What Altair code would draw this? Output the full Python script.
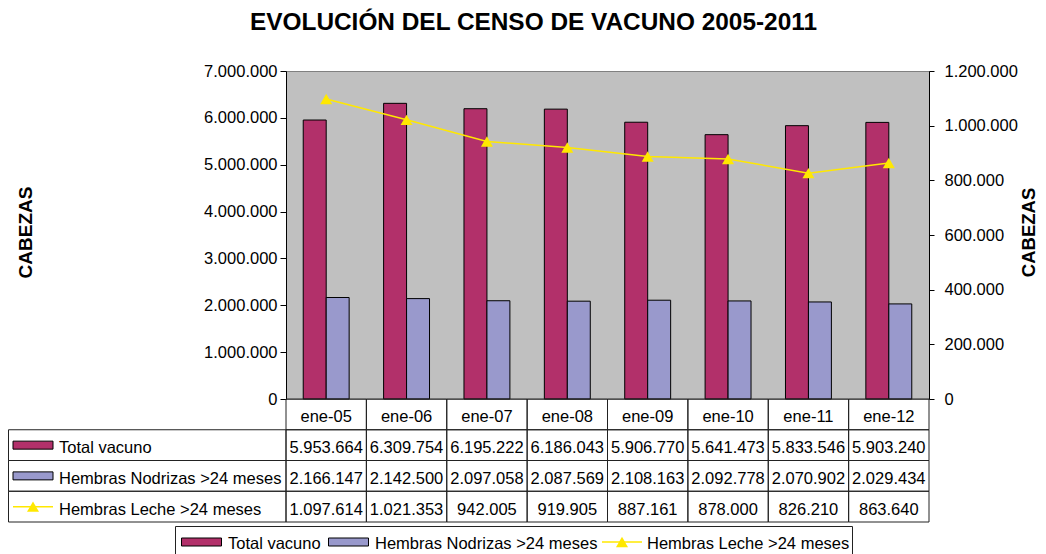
import altair as alt
import pandas as pd

# ---------------- data ----------------
categories = ["ene-05", "ene-06", "ene-07", "ene-08", "ene-09", "ene-10", "ene-11", "ene-12"]
series_names = ["Total vacuno", "Hembras Nodrizas >24 meses", "Hembras Leche >24 meses"]
total_vacuno = [5953664, 6309754, 6195222, 6186043, 5906770, 5641473, 5833546, 5903240]
hembras_nodrizas = [2166147, 2142500, 2097058, 2087569, 2108163, 2092778, 2070902, 2029434]
hembras_leche = [1097614, 1021353, 942005, 919905, 887161, 878000, 826210, 863640]
left_ticks = [0, 1000000, 2000000, 3000000, 4000000, 5000000, 6000000, 7000000]
right_ticks = [0, 200000, 400000, 600000, 800000, 1000000, 1200000]
title_text = "EVOLUCIÓN DEL CENSO DE VACUNO 2005-2011"
axis_title = "CABEZAS"

# ---------------- style ----------------
FONT = "Liberation Sans"
FS = 16.5
C_TOTAL = "#B2306A"
C_NODR = "#9999CC"
C_LECHE = "#FFE800"
W, H = 643, 328
RECT_PATH = "M-2,-0.4H2V0.4H-2Z"
LINE_PATH = "M-2,0H2"


def fmt_es(v):
    return f"{v:,}".replace(",", ".")


label_expr = "replace(replace(format(datum.value, ','), ',', '.'), ',', '.')"

bar_df = pd.DataFrame({
    "cat": categories * 2,
    "serie": [series_names[0]] * len(categories) + [series_names[1]] * len(categories),
    "valor": total_vacuno + hembras_nodrizas,
})
line_df = pd.DataFrame({"cat": categories, "valor": hembras_leche})

rows = ["hdr"] + series_names
tab_records = [{"cat": c, "fila": "hdr", "txt": c} for c in categories]
for name, vals in zip(series_names, [total_vacuno, hembras_nodrizas, hembras_leche]):
    for c, v in zip(categories, vals):
        tab_records.append({"cat": c, "fila": name, "txt": fmt_es(v)})
tab_df = pd.DataFrame(tab_records)
rowname_df = pd.DataFrame({"fila": series_names})

x_enc = alt.X("cat:N", scale=alt.Scale(domain=categories, paddingInner=0, paddingOuter=0), axis=None)
row_scale = alt.Scale(domain=rows, range=[H, H + 123], paddingInner=0, paddingOuter=0)
y_row = alt.Y("fila:N", scale=row_scale, axis=None)

# ---------------- title ----------------
title_mark = alt.Chart(pd.DataFrame({"t": [title_text]})).mark_text(
    font=FONT, fontSize=24.4, fontWeight="bold", color="black", align="center", baseline="alphabetic"
).encode(x=alt.value(247.5), y=alt.value(-41), text="t:N")

# ---------------- chart layers ----------------
bars = alt.Chart(bar_df).mark_bar(stroke="black", strokeWidth=1, opacity=1).encode(
    x=x_enc,
    xOffset=alt.XOffset("serie:N", scale=alt.Scale(domain=series_names[:2], paddingInner=0, paddingOuter=0.75)),
    y=alt.Y("valor:Q", scale=alt.Scale(domain=[0, 7000000], nice=False, zero=True),
            axis=alt.Axis(orient="left", values=left_ticks, labelExpr=label_expr, grid=False,
                          title=axis_title, titleFontSize=19, titleFontWeight="bold", titleAngle=270,
                          titleX=-261, titleY=161, titleAlign="center", titleBaseline="middle",
                          tickSize=6, labelPadding=3)),
    color=alt.Color("serie:N", scale=alt.Scale(domain=series_names[:2], range=[C_TOTAL, C_NODR]), legend=None),
)

line = alt.Chart(line_df).mark_line(color=C_LECHE, strokeWidth=1.5).encode(
    x=x_enc,
    y=alt.Y("valor:Q", scale=alt.Scale(domain=[0, 1200000], nice=False),
            axis=alt.Axis(orient="right", values=right_ticks, labelExpr=label_expr, grid=False,
                          title=axis_title, titleFontSize=18.5, titleFontWeight="bold", titleAngle=270,
                          titleX=99, titleY=161, titleAlign="center", titleBaseline="middle",
                          tickSize=5, labelPadding=10)),
)
pts = alt.Chart(line_df).mark_point(shape="triangle-up", filled=True, size=144, color=C_LECHE, opacity=1).encode(
    x=x_enc,
    y=alt.Y("valor:Q", scale=alt.Scale(domain=[0, 1200000], nice=False), axis=None),
)

# ---------------- data table ----------------
cells = alt.Chart(tab_df).mark_rect(fillOpacity=0, stroke="#222222", strokeWidth=1).encode(
    x=x_enc, y=y_row)
cell_txt = alt.Chart(tab_df).mark_text(font=FONT, fontSize=FS, color="black", baseline="middle", align="center", dy=3).encode(
    x=x_enc, y=y_row, text="txt:N")
name_cells = alt.Chart(rowname_df).mark_rect(fillOpacity=0, stroke="#222222", strokeWidth=1).encode(
    x=alt.value(-277.5), x2=alt.value(0), y=y_row)
name_txt = alt.Chart(rowname_df).mark_text(font=FONT, fontSize=FS, color="black", baseline="middle", align="left", dy=3).encode(
    x=alt.value(-227), y=y_row, text="fila:N")
sym_rect = alt.Chart(pd.DataFrame({"fila": series_names[:2]})).mark_point(
    shape=RECT_PATH, size=400, filled=True, stroke="black", strokeWidth=1, opacity=1).encode(
    x=alt.value(-253), y=y_row,
    fill=alt.Fill("fila:N", scale=alt.Scale(domain=series_names[:2], range=[C_TOTAL, C_NODR]), legend=None))
sym_line = alt.Chart(pd.DataFrame({"fila": series_names[2:]})).mark_point(
    shape=LINE_PATH, size=400, filled=False, color=C_LECHE, strokeWidth=1.5, opacity=1).encode(
    x=alt.value(-253), y=y_row)
sym_tri = alt.Chart(pd.DataFrame({"fila": series_names[2:]})).mark_point(
    shape="triangle-up", size=144, filled=True, color=C_LECHE, opacity=1).encode(
    x=alt.value(-253), y=y_row)

# ---------------- bottom legend ----------------
LY = 471
leg_box = alt.Chart(pd.DataFrame({"s": ["box"]})).mark_rect(fillOpacity=0, stroke="#222222", strokeWidth=1).encode(
    x=alt.value(-110.5), x2=alt.value(566.5), y=alt.value(455.5), y2=alt.value(495))
leg_layers = [leg_box]
leg_items = [(series_names[0], -84.5, -58), (series_names[1], 62.5, 89), (series_names[2], 336, 361)]
for i, (name, sx, tx) in enumerate(leg_items):
    d = pd.DataFrame({"s": [name]})
    if i < 2:
        leg_layers.append(alt.Chart(d).mark_point(shape=RECT_PATH, size=400, filled=True, stroke="black",
                                                   strokeWidth=1, opacity=1,
                                                   fill=[C_TOTAL, C_NODR][i]).encode(
            x=alt.value(sx), y=alt.value(LY)))
    else:
        leg_layers.append(alt.Chart(d).mark_point(shape=LINE_PATH, size=400, filled=False, color=C_LECHE,
                                                   strokeWidth=1.5, opacity=1).encode(
            x=alt.value(sx), y=alt.value(LY)))
        leg_layers.append(alt.Chart(d).mark_point(shape="triangle-up", size=144, filled=True, color=C_LECHE,
                                                   opacity=1).encode(
            x=alt.value(sx), y=alt.value(LY)))
    leg_layers.append(alt.Chart(d).mark_text(font=FONT, fontSize=FS, color="black", align="left",
                                             baseline="middle", dy=2).encode(
        x=alt.value(tx), y=alt.value(LY), text="s:N"))

chart = alt.layer(
    bars, line, pts, cells, cell_txt, name_cells, name_txt, sym_rect, sym_line, sym_tri, title_mark, *leg_layers
).resolve_scale(
    y="independent", fill="independent"
).properties(
    width=W, height=H,
    autosize=alt.AutoSizeParams(type="none"),
    padding={"left": 278, "top": 63, "right": 109, "bottom": 155},
).configure(
    background="white",
).configure_view(
    fill="#C0C0C0", stroke="#808080", strokeWidth=1,
).configure_axis(
    labelFont=FONT, labelFontSize=FS, labelColor="black", domainColor="black", tickColor="black",
    titleFont=FONT, titleColor="black", domainWidth=1, tickWidth=1,
)

chart.save("out.html", embed_options={"renderer": "svg", "actions": False})
